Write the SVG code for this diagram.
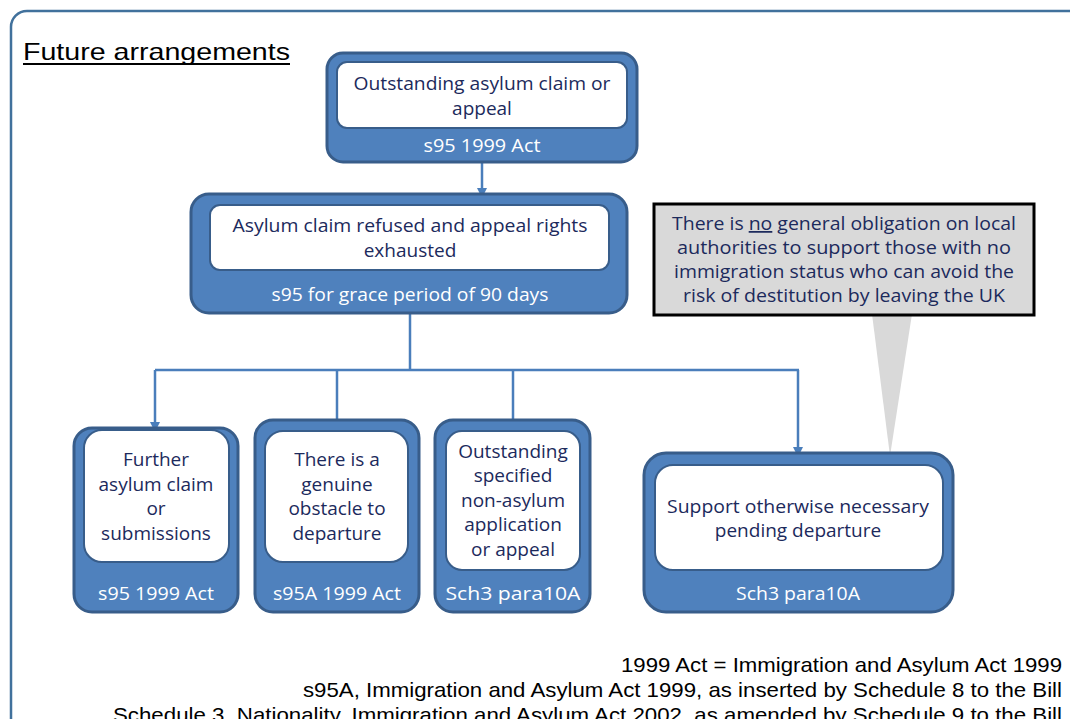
<svg xmlns="http://www.w3.org/2000/svg" width="1070" height="719" viewBox="0 0 1070 719">
<defs>
<style>
.outer{fill:#4F81BD;stroke:#385D8A;stroke-width:3}
.inner{fill:#FFFFFF;stroke:#385D8A;stroke-width:2}
.t{font-family:"Open Sans","Noto Sans",sans-serif;font-size:19px;fill:#1C2A5C;text-anchor:middle}
.s{font-family:"Open Sans","Noto Sans",sans-serif;font-size:17.5px;fill:#1C2A5C;text-anchor:middle}
.w{font-family:"Open Sans","Noto Sans",sans-serif;font-size:18px;fill:#FFFFFF;text-anchor:middle}
.conn{fill:none;stroke:#4A7EBB;stroke-width:2.5}
.foot{font-family:"Liberation Sans",Arial,sans-serif;font-size:21px;fill:#000;text-anchor:end}
</style>
<marker id="arr" markerWidth="10" markerHeight="10" refX="5" refY="5" orient="auto" markerUnits="userSpaceOnUse">
<path d="M0,0 L10,5 L0,10 z" fill="#4A7EBB"/>
</marker>
</defs>
<rect x="0" y="0" width="1070" height="719" fill="#FFFFFF"/>
<rect id="frame" x="11" y="11" width="1090" height="740" rx="16" fill="none" stroke="#41719C" stroke-width="2.5"/>
<g id="title">
<text x="23" y="60" font-family="Liberation Sans,Arial,sans-serif" font-size="24" fill="#000" textLength="267" lengthAdjust="spacingAndGlyphs">Future arrangements</text>
<line x1="23" y1="64" x2="290" y2="64" stroke="#000" stroke-width="1.8"/>
</g>
<g id="connectors">
<line class="conn" x1="482" y1="162" x2="482" y2="193" marker-end="url(#arr)"/>
<polyline class="conn" points="410,313 410,370"/>
<line class="conn" x1="155" y1="370" x2="799" y2="370"/>
<line class="conn" x1="155" y1="370" x2="155" y2="427" marker-end="url(#arr)"/>
<line class="conn" x1="337" y1="370" x2="337" y2="420"/>
<line class="conn" x1="513" y1="370" x2="513" y2="420"/>
<line class="conn" x1="798" y1="370" x2="798" y2="452" marker-end="url(#arr)"/>
</g>
<g id="callout">
<polygon points="872,314 912,314 890,456" fill="#D9D9D9"/>
<rect x="654" y="204" width="380" height="111" fill="#D9D9D9" stroke="#000" stroke-width="3"/>
<text class="s" x="844" y="230" textLength="344" lengthAdjust="spacingAndGlyphs">There is <tspan text-decoration="underline">no</tspan> general obligation on local</text>
<text class="s" x="844" y="254" textLength="334" lengthAdjust="spacingAndGlyphs">authorities to support those with no</text>
<text class="s" x="844" y="278" textLength="340" lengthAdjust="spacingAndGlyphs">immigration status who can avoid the</text>
<text class="s" x="844" y="302" textLength="322" lengthAdjust="spacingAndGlyphs">risk of destitution by leaving the UK</text>
</g>
<g id="node-outstanding">
<rect class="outer" x="327" y="53" width="310" height="109" rx="16"/>
<rect class="inner" x="337" y="62" width="290" height="66" rx="10"/>
<text class="t" x="482" y="90" textLength="257" lengthAdjust="spacingAndGlyphs">Outstanding asylum claim or</text>
<text class="t" x="482" y="115">appeal</text>
<text class="w" x="482" y="152" textLength="117" lengthAdjust="spacingAndGlyphs">s95 1999 Act</text>
</g>
<g id="node-refused">
<rect class="outer" x="191" y="194" width="436" height="119" rx="18"/>
<rect class="inner" x="210" y="205" width="399" height="65" rx="10"/>
<text class="t" x="410" y="232" textLength="355" lengthAdjust="spacingAndGlyphs">Asylum claim refused and appeal rights</text>
<text class="t" x="410" y="257">exhausted</text>
<text class="w" x="410" y="301" textLength="277" lengthAdjust="spacingAndGlyphs">s95 for grace period of 90 days</text>
</g>
<g id="node-further">
<rect class="outer" x="74" y="428" width="164" height="184" rx="18"/>
<rect class="inner" x="84" y="430" width="145" height="132" rx="18"/>
<text class="t" x="156" y="466">Further</text>
<text class="t" x="156" y="491">asylum claim</text>
<text class="t" x="156" y="515">or</text>
<text class="t" x="156" y="540">submissions</text>
<text class="w" x="156" y="600" textLength="116" lengthAdjust="spacingAndGlyphs">s95 1999 Act</text>
</g>
<g id="node-obstacle">
<rect class="outer" x="255" y="420" width="164" height="192" rx="18"/>
<rect class="inner" x="265" y="431" width="143" height="131" rx="18"/>
<text class="t" x="337" y="466">There is a</text>
<text class="t" x="337" y="491">genuine</text>
<text class="t" x="337" y="515">obstacle to</text>
<text class="t" x="337" y="540">departure</text>
<text class="w" x="337" y="600" textLength="128" lengthAdjust="spacingAndGlyphs">s95A 1999 Act</text>
</g>
<g id="node-nonasylum">
<rect class="outer" x="435" y="420" width="155" height="192" rx="18"/>
<rect class="inner" x="446" y="431" width="134" height="139" rx="16"/>
<text class="t" x="513" y="458">Outstanding</text>
<text class="t" x="513" y="482">specified</text>
<text class="t" x="513" y="507">non-asylum</text>
<text class="t" x="513" y="531">application</text>
<text class="t" x="513" y="556">or appeal</text>
<text class="w" x="513" y="600" textLength="135" lengthAdjust="spacingAndGlyphs">Sch3 para10A</text>
</g>
<g id="node-support">
<rect class="outer" x="644" y="453" width="309" height="159" rx="22"/>
<rect class="inner" x="655" y="465" width="288" height="105" rx="18"/>
<text class="t" x="798" y="513" textLength="262" lengthAdjust="spacingAndGlyphs">Support otherwise necessary</text>
<text class="t" x="798" y="537">pending departure</text>
<text class="w" x="798" y="600" textLength="124" lengthAdjust="spacingAndGlyphs">Sch3 para10A</text>
</g>
<g id="footnotes">
<text class="foot" x="1062" y="672" textLength="441" lengthAdjust="spacingAndGlyphs">1999 Act = Immigration and Asylum Act 1999</text>
<text class="foot" x="1062" y="697" textLength="759" lengthAdjust="spacingAndGlyphs">s95A, Immigration and Asylum Act 1999, as inserted by Schedule 8 to the Bill</text>
<text class="foot" x="1062" y="722" textLength="949" lengthAdjust="spacingAndGlyphs">Schedule 3, Nationality, Immigration and Asylum Act 2002, as amended by Schedule 9 to the Bill</text>
</g>
</svg>
